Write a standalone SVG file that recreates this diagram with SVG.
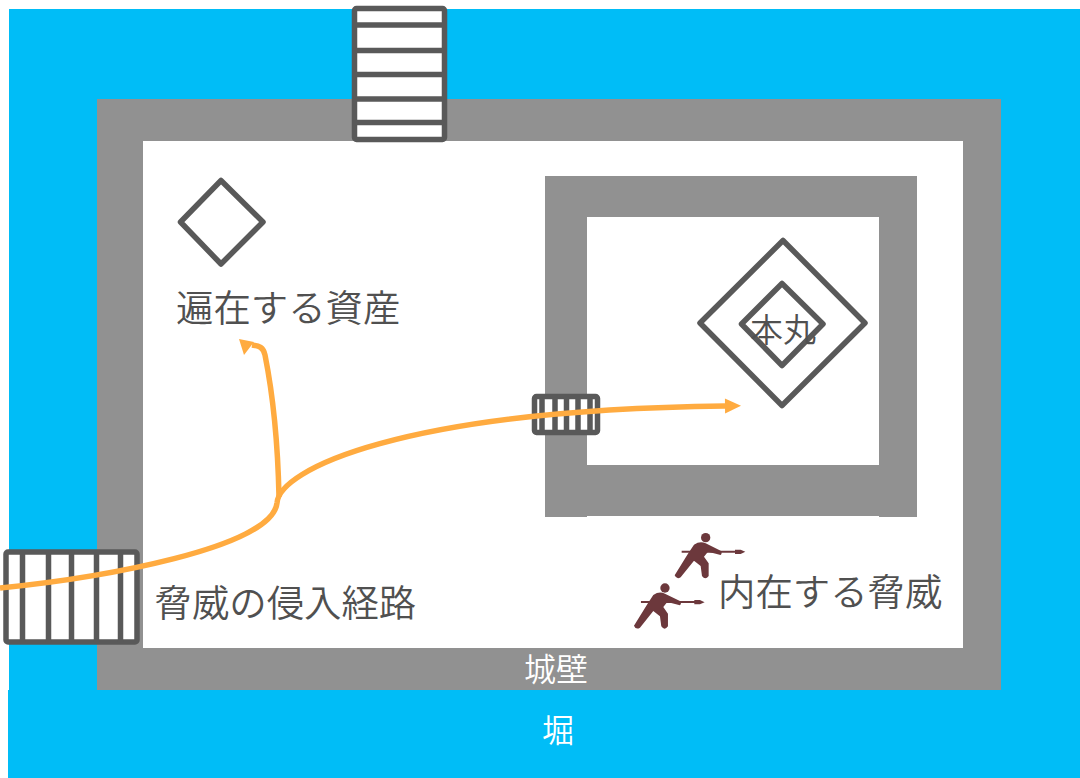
<svg xmlns="http://www.w3.org/2000/svg" xmlns:xlink="http://www.w3.org/1999/xlink" width="1080" height="778" viewBox="0 0 1080 778">
<style>
.moat{fill:#00bdf7}
.wall{fill:#919191}
.floor{fill:#fff}
.line{fill:#fff;stroke:#595959;stroke-width:5.500;stroke-linejoin:round}
.bar{stroke:#595959;stroke-width:5.500;fill:none}
.t{font-family:"Noto Sans CJK JP","Noto Sans CJK SC",sans-serif;font-weight:350;fill:#505050;font-size:37.400px}
.w{fill:#fff;font-size:32px;text-anchor:middle}
.route{fill:none;stroke:#ffab40;stroke-width:5.500}
.fig{fill:#6c383c}
</style>
<defs>
<marker id="ah" markerUnits="userSpaceOnUse" markerWidth="18" markerHeight="18" refX="1" refY="9" orient="auto"><path d="M1,1.500L17,9L1,16.500Z" fill="#ffab40"/></marker>
<marker id="ah2" markerUnits="userSpaceOnUse" viewBox="-14 -8 20 20" markerWidth="20" markerHeight="20" refX="0" refY="0" orient="0"><path d="M-13,-6L2,-3L-8,10Z" fill="#ffab40"/></marker>
<g id="lancer">
<circle cx="257" cy="53" r="14"/>
<path d="M222,74Q240,62 257,70L302,92Q308,98 302,105L264,95L252,110L266,130L266,168Q256,182 246,168L242,138L222,122L182,172Q170,180 164,166L203,103Z"/>
<path d="M185,95H350" stroke="#6c383c" stroke-width="6" fill="none"/>
<path d="M345,89H362L376,95.500L362,102H345Z"/>
</g>
</defs>
<g id="moat">
<rect class="moat" x="9" y="9" width="1071" height="682"/>
<rect class="moat" x="8" y="690" width="1072" height="88"/>
</g>
<g id="outer-wall">
<rect class="wall" x="97" y="99" width="904" height="591"/>
<rect class="floor" x="143" y="141" width="820" height="507"/>
</g>
<g id="inner-wall">
<rect class="wall" x="545" y="176" width="372" height="341"/>
<rect class="floor" x="587" y="217" width="292" height="248"/>
<rect class="floor" x="587" y="516" width="292" height="1"/>
</g>
<g id="gate-top">
<rect class="line" x="354.500" y="8.500" width="90" height="131" rx="2"/>
<path class="bar" d="M355,25H444M355,50.500H444M355,74.500H444M355,99H444M355,122.500H444"/>
</g>
<g id="gate-left">
<rect class="line" x="6" y="552" width="131" height="90" rx="2"/>
<path class="bar" d="M22.500,552V642M48.500,552V642M71.500,552V642M96.500,552V642M120.500,552V642"/>
</g>
<g id="gate-inner">
<rect class="line" x="534.500" y="396.500" width="63" height="36" rx="2"/>
<path class="bar" d="M542,397V432M555,397V432M566.500,397V432M578,397V432M590,397V432"/>
</g>
<g id="asset">
<path class="line" d="M221,180.500L263,222L221,264L180.500,222Z"/>
<text class="t" x="176" y="322">遍在する資産</text>
</g>
<g id="honmaru">
<path class="line" d="M783,240.500L865,323L782,405.500L700,323Z"/>
<path class="line" d="M782,283.500L823,324L782,365.500L741.500,324Z"/>
<text class="t" x="783" y="342" text-anchor="middle" style="font-size:33px">本丸</text>
</g>
<g id="threat-route-label">
<text class="t" x="154.500" y="616.500">脅威の侵入経路</text>
</g>
<g id="inner-threat">
<g class="fig" transform="translate(620,520) scale(.3333)"><use href="#lancer"/></g>
<g class="fig" transform="translate(579.300,570.300) scale(.3333)"><use href="#lancer"/></g>
<text class="t" x="718" y="605.500">内在する脅威</text>
</g>
<g id="wall-label"><text class="t w" x="556" y="681">城壁</text></g>
<g id="moat-label"><text class="t w" x="558" y="742">堀</text></g>
<g id="connectors">
<path class="route" d="M0,588C100,578 272,548 277,503C279,470 400,410 725,406" marker-end="url(#ah)"/>
<path class="route" d="M279,497C278,450 274,400 265,355C263,346 258,346 252,345" marker-end="url(#ah2)"/>
</g>
</svg>
